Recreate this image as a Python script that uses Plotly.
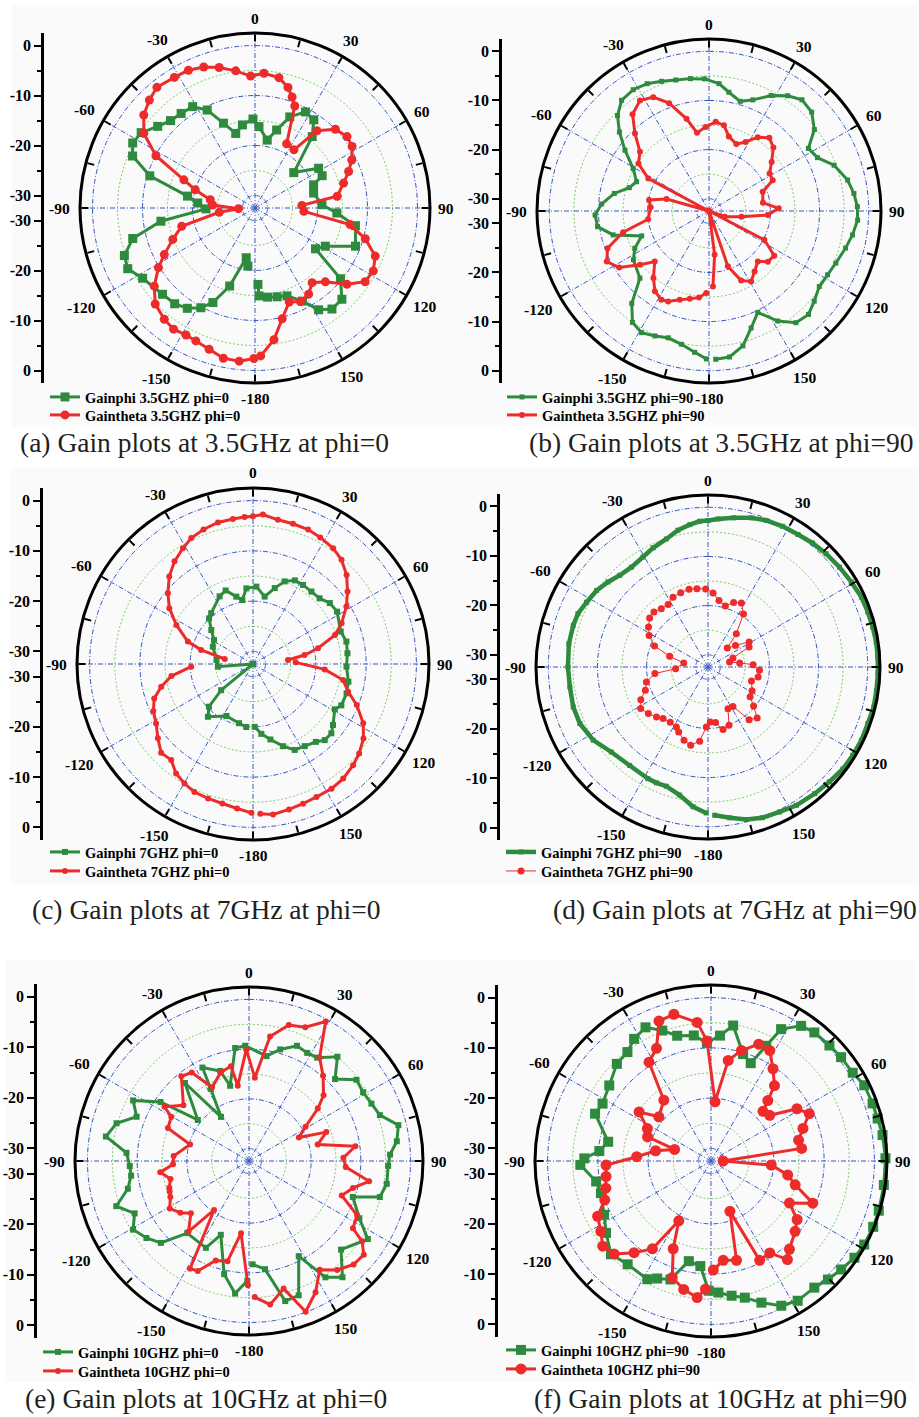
import math
import plotly.graph_objects as go

W, H = 919, 1417
R_MIN, R_MAX = -32.5, 2.5
SERIF = "Liberation Serif"
GREEN = "#2e8b3d"
RED = "#ee2b2b"
GRID_BLUE = "#3558c4"
GRID_GREEN = "#7fcb6b"

# ---------------- gain patterns: angle (deg) / gain (dB) ----------------
# (a) 3.5 GHz, phi = 0
GP_A_ANG = [-173, -170, -162, -156, -151.5, -146, -140, -133, -122, -115.5, -110, -104, -98, -91, -85, -80,
            -73, -67, -62, -56.5, -50, -44, -38, -31.6, -26, -20.4, -14.5, -8.6, -1.3, 2.8, 10.2, 15.5, 20.9,
            27.7, 33.7, 38.7, 47.6, 58, 64.3, 68.4, 75.7, 87.2, 93.5, 100, 110.8, 118.5, 124, 129.6, 136.4,
            142.7, 148, 153, 160, 166, 172, 177.4, 177.8]
GP_A_DB = [-20.8, -22.4, -16.1, -11.8, -9.8, -8.3, -7.5, -7.2, -6.0, -4.3, -4.7, -7.3, -13.5, -22.7, -21.0, -18.8,
           -10.5, -5.9, -4.8, -5.2, -7.1, -8.2, -8.5, -8.7, -10.7, -14.4, -17.1, -15.7, -14.7, -16.2, -18.7, -16.3,
           -13.0, -10.8, -11.3, -14.2, -22.0, -17.5, -17.6, -19.9, -20.4, -19.1, -16.1, -12.1, -11.0, -16.5, -17.9,
           -10.3, -7.3, -7.1, -8.5, -11.6, -13.8, -14.2, -14.5, -14.9, -17.2]
GT_A_ANG = [-179.6, -174.1, -168.1, -162, -156, -151.5, -146.1, -140.8, -133.9, -127.8, -121.7, -117.2, -110.9,
            -104, -96.9, -92.3, -86, -79.5, -73, -68.4, -62.2, -56.1, -50.1, -44.4, -39.1, -31.7, -25.8, -20,
            -14.3, -8, -1.9, 3.8, 10.4, 15.3, 18.5, 21.3, 26.2, 33.8, 38.7, 45.6, 52.2, 57.6, 63.6, 68.7, 74.3,
            81.9, 86.8, 93.9, 99.9, 105.6, 111.8, 118, 123.8, 129.7, 136.4, 142.6, 148.1, 154.1, 160, 166.2,
            171.8, 177.8]
GT_A_DB = [-2.4, -1.7, -1.8, -2.8, -3.4, -3.6, -3.3, -3.8, -4.8, -7.0, -9.8, -12.1, -14.9, -17.4, -25.3, -29.2,
           -24.0, -23.4, -20.0, -17.2, -10.1, -5.7, -3.5, -2.3, -1.4, -1.8, -1.9, -2.5, -3.5, -4.8, -6.1, -5.5,
           -6.0, -7.5, -9.1, -10.6, -18.2, -18.5, -12.7, -10.0, -9.2, -9.5, -10.9, -12.4, -14.1, -15.9, -23.1,
           -22.7, -13.2, -9.6, -6.6, -5.7, -6.0, -8.6, -12.1, -13.7, -12.2, -11.7, -12.5, -9.7, -5.9, -2.9]

# (b) 3.5 GHz, phi = 90
GP_B_ANG = [-179, -174.2, -168.3, -162.2, -156.6, -151, -145.5, -140.1, -134.2, -122.8, -116.7, -110.3, -104,
            -98, -92, -86.3, -79.5, -73.7, -68, -60.7, -54.1, -48.6, -43.8, -38.3, -32, -25.9, -20.1, -14.2, -8,
            -1.9, 4.5, 9.5, 15.9, 21.5, 28.3, 34.3, 39.9, 46.1, 52.3, 57.8, 63.8, 69.9, 77.4, 83.1, 88.3, 93.5,
            99.5, 105.2, 112.3, 118.3, 124.4, 130.6, 136.1, 142.1, 148, 154.3, 160.2, 165.9, 172, 177.4]
GP_B_DB = [-2.4, -3.6, -4.8, -5.4, -4.8, -4.2, -5.0, -8.0, -12.9, -14.2, -15.6, -17.9, -12.4, -9.6, -9.3, -10.6,
           -12.9, -15.6, -16.6, -14.8, -11.4, -8.2, -5.6, -3.8, -3.4, -3.7, -4.4, -5.0, -5.3, -5.6, -6.5, -8.0,
           -9.3, -8.2, -5.8, -4.1, -3.0, -3.5, -5.4, -8.6, -7.9, -5.4, -3.6, -2.8, -2.3, -2.2, -2.9, -3.7, -4.6,
           -5.1, -5.3, -4.3, -3.3, -3.7, -6.1, -9.6, -7.2, -4.2, -2.5, -2.3]
GT_B_ANG = [-178.1, -173.4, -167.7, -161.8, -155.7, -151.8, -146, -140.3, -133, -127.9, -122.2, -116.3, -110.2,
            -103.9, -97.8, -86.4, -79.6, -74.3, -68, -61.8, -56.1, -49.4, -43.7, -38.3, -32, -26.1, -20.3, -13.7,
            -8.7, -2.3, 4.3, 9.9, 14.9, 22.2, 27.9, 33.4, 39.5, 45.4, 51.9, 58.2, 64.2, 70.3, 81.2, 87.8, 93.9,
            100, 109.9, 114, 117.5, 124.4, 130.7, 136, 143, 149.1, 155.2, 161.2, 167, 172.7, 177]
GT_B_DB = [-15.8, -14.8, -14.2, -13.5, -12.3, -12.0, -12.8, -14.8, -17.4, -14.7, -10.9, -9.3, -10.5, -14.5,
           -20.0, -20.6, -20.1, -23.5, -32.5, -18.5, -15.2, -14.0, -10.7, -7.4, -6.0, -6.7, -9.1, -13.2, -16.4,
           -15.4, -14.3, -14.8, -16.8, -17.8, -16.6, -14.5, -13.2, -14.1, -16.3, -18.0, -18.1, -20.9, -21.4,
           -18.3, -20.5, -25.8, -29.1, -32.5, -19.8, -16.4, -16.7, -18.2, -17.1, -15.8, -16.9, -20.6, -32.5,
           -23.5, -17.1]

# (c) 7 GHz, phi = 0
GP_C_ANG = [-173.9, -166.7, -152.9, -139.5, -134.1, -129.4, -115, -94.4, -83.8, -66.6, -58.4, -50.8, -43.9,
            -39.4, -26.3, -20.4, -13.9, -9.5, -5, 2.5, 9.8, 16, 21, 26.6, 32.3, 38.9, 45.4, 51.6, 58.1, 69.7,
            76.5, 83.5, 91.6, 100.5, 107.4, 115.1, 119, 127.3, 131.5, 136.7, 141.1, 147.8, 154.1, 159.9, 167,
            173.2, 178.5]
GP_C_DB = [-19.9, -20.4, -20.9, -18.7, -20.3, -24.3, -32.5, -25.5, -25.2, -23.8, -23.4, -21.8, -19.9, -19.4,
           -17.5, -16.9, -18.7, -19.6, -17.4, -17.1, -18.9, -16.8, -14.9, -13.9, -13.9, -14.0, -13.9, -13.0,
           -12.8, -13.9, -13.4, -13.6, -13.9, -13.2, -13.0, -13.1, -13.9, -12.5, -11.7, -11.7, -12.6, -13.2,
           -13.5, -15.1, -17.1, -18.5, -20.0]
GT_C_ANG = [-179.4, -173.7, -167.6, -161.5, -155.4, -150.2, -144.9, -139.6, -134, -128, -121.5, -115.2, -109.2,
            -103.9, -98.4, -92.5, -90, -80, -74.8, -71, -63, -56.3, -50.3, -43.7, -37.4, -31.2, -26.1, -20.2,
            -13.9, -7.9, -3.3, 0, 3.8, 9.8, 15.9, 22.3, 28, 34.7, 40.3, 46.4, 52.5, 58.4, 65.3, 70.5, 76.4, 80.1,
            83.5, 85.5, 87.8, 94.3, 100.1, 106.2, 111.6, 118.3, 124, 130.1, 135.3, 141.8, 147.8, 154.5, 160.3,
            166.1, 172.4, 177.2]
GT_C_DB = [-2.9, -3.6, -4.1, -4.3, -4.5, -5.1, -5.9, -7.4, -7.1, -8.5, -9.9, -10.6, -11.7, -13.7, -16.1, -20.2,
           None, -26.8, -21.8, -18.8, -15.4, -12.5, -10.5, -8.4, -6.8, -5.6, -4.6, -4.0, -3.5, -3.4, -3.2, -3.1,
           -2.7, -3.4, -3.5, -3.6, -4.0, -4.5, -5.3, -6.8, -8.8, -10.7, -13.1, -15.2, -19.2, -22.1, -25.5, None,
           -24.0, -18.2, -14.3, -12.8, -10.3, -7.6, -6.0, -4.9, -4.2, -3.5, -3.2, -3.2, -3.0, -2.7, -2.3, -2.7]

# (d) 7 GHz, phi = 90
GP_D_ANG = [-179.3, -173.9, -167.5, -160.7, -156, -151.7, -141.5, -131.3, -122.5, -113.8, -106.5, -98.2, -90,
            -80.5, -72.8, -67.7, -61.9, -55.5, -49.6, -43.9, -37.5, -30.6, -24.7, -18, -12.4, -7.3, -3.3, 0, 3.9,
            9.8, 16.2, 21.7, 27.9, 34.2, 40.1, 46.2, 52.8, 59.3, 65.5, 71, 76.4, 81.6, 86.6, 92.2, 97.9, 103.6,
            109.5, 115.6, 121.4, 127, 133.4, 139.9, 147.4, 153.7, 160.2, 165.9, 171.8, 177.4]
GP_D_DB = [-2.8, -3.9, -5.8, -6.8, -6.7, -6.7, -6.9, -6.3, -4.8, -4.0, -3.9, -4.1, -4.0, -3.8, -3.8, -3.9, -4.5,
           -5.0, -5.8, -6.6, -6.9, -6.5, -5.8, -5.1, -4.0, -3.3, -2.8, -2.7, -2.3, -1.7, -0.9, -0.4, -0.1, 0.1,
           0.5, 0.8, 1.1, 1.4, 1.8, 1.9, 2.0, 2.1, 2.1, 2.1, 2.1, 2.2, 2.0, 2.1, 2.0, 1.9, 1.5, 1.2, 0.9, 0.4,
           0.1, -0.5, -1.5, -2.3]
GT_D_ANG = [-178.4, -173.6, -167.5, -161.9, -155.7, -152.2, -145.6, -138.9, -134.1, -128, -121.7, -115.9, -110.4,
            -103.7, -97.1, -93, -80.7, -74.4, -68.5, -61.8, -56, -50, -44.5, -38.7, -32.5, -26.6, -20.2, -13.7,
            -8, -1.7, 3.9, 9.4, 15.9, 21.7, 27.5, 33.8, 40.4, 45.5, 51.9, 58.6, 64, 70.2, 77, 82.8, 87, 93.7,
            101.3, 107.9, 118.4, 125.3, 130.5, 136, 142.1, 147.6, 154.4, 160.2, 166.5, 172.2, 177.6]
GT_D_DB = [-20.3, -17.3, -16.2, -16.8, -18.0, -18.7, -18.9, -18.6, -17.9, -17.1, -16.4, -17.3, -18.9, -19.6,
           -21.6, -25.9, -27.5, -24.4, -20.8, -18.9, -17.9, -17.0, -16.8, -17.3, -17.4, -16.6, -16.4, -16.2,
           -16.4, -16.6, -17.4, -18.8, -19.6, -18.4, -17.8, -19.5, -23.6, -27.0, -25.4, -22.7, -23.2, -27.1,
           -28.0, -26.0, -23.3, -22.0, -22.1, -23.2, -22.3, -22.0, -20.3, -18.1, -18.9, -23.0, -23.1, -19.9,
           -19.4, -21.1, -21.3]

# (e) 10 GHz, phi = 0
GP_E_ANG = [-179.2, -174, -167.6, -159.1, -153.6, -139.4, -132.9, -126.9, -120.6, -114.6, -108.8, -102.9, -97.1,
            -92.4, -86.2, -80.3, -74.1, -68.5, -62.4, -56.3, -51.3, -39.4, -32.4, -27.9, -26.5, -17.7, -14.1, -7,
            -1.9, 9.5, 15.6, 22.6, 28.3, 33.4, 40.3, 46.4, 52.9, 58.9, 64.9, 70.7, 76.5, 82.4, 87.4, 92, 99.4,
            105.4, 109.1, 117.4, 123.3, 133.9, 141.2, 146.7, 152.4, 159.7, 165.5, 171.6, 178]
GP_E_DB = [-8.4, -5.7, -9.2, -16.6, -13.0, -13.4, -8.3, -6.7, -5.4, -7.2, -4.3, -7.5, -8.6, -8.5, -7.8, -3.3,
           -4.8, -8.2, -6.2, -11.1, -19.3, -12.2, -22.0, -16.1, -11.5, -13.5, -16.9, -9.6, -9.3, -11.1, -9.2,
           -7.4, -7.8, -7.6, -5.0, -8.6, -5.4, -5.7, -5.3, -4.6, -1.6, -2.5, -4.1, -4.5, -4.4, -5.2, -10.4,
           -7.5, -3.9, -6.8, -2.5, -4.5, -10.9, -3.7, -3.4, -10.5, -11.7]
GT_E_ANG = [-179.5, -173.7, -167.9, -161.5, -155, -151.3, -144.5, -139.4, -131.9, -127, -121, -114.6, -111,
            -108.5, -102.9, -97.3, -92.5, -86.2, -74.4, -67.9, -60.3, -57.3, -49.7, -38.6, -32.9, -26.6, -17.7,
            -10.8, -8.5, -1.4, 4, 9.6, 16.3, 22.8, 28.8, 34.3, 41, 48.6, 52.7, 58.8, 64.7, 69.5, 76.5, 82.1, 88,
            93.5, 99.6, 104.5, 110.4, 116.6, 122.9, 125.4, 129.2, 134.7, 141, 147, 153.1, 159.4, 164.8, 171.6,
            177.6]
GT_E_DB = [-7.5, -17.9, -11.9, -11.4, -8.1, -7.8, -20.4, -13.8, -16.8, -15.2, -13.9, -15.1, -15.4, -15.6,
           -16.3, -14.5, -17.2, -17.3, -20.2, -14.9, -14.5, -12.3, -15.2, -10.7, -11.3, -15.9, -13.8, -13.1,
           -17.2, -10.1, -15.7, -7.1, -4.0, -3.3, -0.5, -7.3, -9.8, -12.5, -15.1, -19.2, -21.4, -15.9, -18.3,
           -10.9, -13.5, -13.0, -8.0, -10.9, -12.6, -8.2, -7.6, -4.6, -2.7, -2.9, -4.3, -6.4, -2.9, -0.1, -5.9,
           -3.3, -5.1]

# (f) 10 GHz, phi = 90
GP_F_ANG = [-179, -174.2, -167.5, -161.1, -155.4, -151.7, -141.1, -133, -124.4, -116.7, -106.3, -100.1, -91.7,
            -88.8, -84.9, -79.4, -67.8, -62.1, -53.4, -44.1, -37.5, -32.2, -26.1, -20.5, -15.1, -7.8, -2, 4.1,
            9.3, 16.7, 22.1, 25.6, 28, 33.7, 38.8, 45.7, 51.4, 58.1, 63.7, 70.4, 75.7, 81.4, 89.1, 97.9, 106.5,
            112.1, 118.6, 124, 129.8, 135.4, 140.8, 148.2, 154.1, 160.4, 166.1, 171.3, 176.8]
GP_F_DB = [-6.7, -11.5, -12.1, -7.6, -6.8, -5.8, -6.1, -5.3, -7.2, -8.7, -9.7, -9.3, -6.5, -7.3, -10.2, -11.7,
           -7.6, -8.1, -7.3, -5.6, -5.2, -3.8, -2.9, -4.8, -6.7, -7.3, -9.0, -7.5, -5.2, -10.3, -11.5, -7.1, -2.8,
           -0.2, 0.3, 0.4, 0.6, 0.7, 1.5, 1.6, 1.7, 2.0, 2.2, 2.2, 2.3, 2.3, 2.2, 1.9, 1.2, 0.6, 0.0, 0.2, -0.5,
           -2.6, -4.5, -5.4, -6.3]
GT_F_ANG = [-177.5, -174.2, -168, -161.6, -156.7, -151.7, -146.3, -140, -133.8, -128.2, -122.6, -116, -110.1,
            -104.5, -98.4, -92.2, -86.7, -79.5, -72.4, -69.2, -63, -55.7, -49.7, -37.8, -32.1, -25.8, -20.4,
            -14.2, -5.7, -1.9, 3.9, 9.7, 15.4, 22.2, 28, 33.9, 40.1, 43.2, 46.3, 52.1, 58.7, 64.3, 70.5, 76.6,
            82.1, 90, 93.8, 100.3, 105.8, 112.5, 118.2, 124.2, 129.9, 138.4, 142.2, 147.4, 153.9, 159.4, 165.6,
            173, 178.8]
GT_F_DB = [-7.0, -5.2, -6.4, -8.1, -13.5, -19.0, -11.5, -8.7, -5.8, -5.1, -6.5, -7.4, -10.0, -10.9, -11.4,
           -11.6, -17.7, -21.3, -24.9, -19.0, -18.3, -15.2, -18.9, -17.2, -9.3, -7.6, -2.8, -2.4, -4.8, -8.6,
           -20.7, -12.2, -9.7, -7.4, -7.6, -10.4, -12.9, -16.0, -18.2, -17.7, -12.5, -10.8, -13.1, -14.6, -14.3,
           -30.1, -20.5, -17.0, -15.1, -10.6, -14.8, -11.8, -10.7, -9.0, -7.7, -10.8, -10.5, -21.8, -12.1,
           -12.6, -10.8]

# ---------------- axis annotation values ----------------
ANGLE_TICKS = [0, 30, 60, 90, 120, 150, 180, 210, 240, 270, 300, 330]
ANGLE_LABELS = ["0", "30", "60", "90", "120", "150", "-180", "-150", "-120", "-90", "-60", "-30"]
RING_MAJOR = [-30, -20, -10, 0]
RING_MINOR = [-25, -15, -5]
SIDE_TICKS = [0, -10, -20, -30]
SIDE_MINOR = [-5, -15, -25]

# ---------------- panel layout (pixels) ----------------
# leg = (left x, centre y of first entry, centre y of second entry)
PANELS = [
    dict(cx=255, cy=208, R=175, axx=44, axh=175, box=(12, 5, 466, 427),
         leg=(45, 397, 415), cap="(a) Gain plots at 3.5GHz at phi=0", capx=18, capy=442,
         phi=(GP_A_ANG, GP_A_DB, "Gainphi 3.5GHZ phi=0", 9, 3),
         theta=(GT_A_ANG, GT_A_DB, "Gaintheta 3.5GHZ phi=0", 9, 3)),
    dict(cx=709, cy=211, R=172, axx=502, axh=172, box=(464, 5, 917, 427),
         leg=(502, 397, 415), cap="(b) Gain plots at 3.5GHz at phi=90", capx=527, capy=442,
         phi=(GP_B_ANG, GP_B_DB, "Gainphi 3.5GHZ phi=90", 5, 3),
         theta=(GT_B_ANG, GT_B_DB, "Gaintheta 3.5GHZ phi=90", 6, 3)),
    dict(cx=253, cy=664, R=176, axx=43, axh=176, box=(10, 468, 466, 884),
         leg=(45, 852, 871), cap="(c) Gain plots at 7GHz at phi=0", capx=30, capy=909,
         phi=(GP_C_ANG, GP_C_DB, "Gainphi 7GHZ phi=0", 6, 3),
         theta=(GT_C_ANG, GT_C_DB, "Gaintheta 7GHZ phi=0", 6, 3)),
    dict(cx=708, cy=667, R=172, axx=500, axh=173, box=(466, 468, 918, 884),
         leg=(501, 852, 871), cap="(d) Gain plots at 7GHz at phi=90", capx=551, capy=909,
         phi=(GP_D_ANG, GP_D_DB, "Gainphi 7GHZ phi=90", 5, 4.5),
         theta=(GT_D_ANG, GT_D_DB, "Gaintheta 7GHZ phi=90", 7, 1)),
    dict(cx=249, cy=1161, R=174, axx=37, axh=177, box=(5, 960, 463, 1382),
         leg=(38, 1352, 1371), cap="(e) Gain plots at 10GHz at phi=0", capx=23, capy=1398,
         phi=(GP_E_ANG, GP_E_DB, "Gainphi 10GHZ phi=0", 6, 3),
         theta=(GT_E_ANG, GT_E_DB, "Gaintheta 10GHZ phi=0", 6, 3)),
    dict(cx=711, cy=1161, R=176, axx=498, axh=176, box=(463, 960, 915, 1382),
         leg=(501, 1350, 1369), cap="(f) Gain plots at 10GHz at phi=90", capx=532, capy=1398,
         phi=(GP_F_ANG, GP_F_DB, "Gainphi 10GHZ phi=90", 10, 3),
         theta=(GT_F_ANG, GT_F_DB, "Gaintheta 10GHZ phi=90", 11, 3)),
]

LEGEND_TOP_OFFSET = 16  # distance from a legend's top edge to the centre of its entry


def rings(levels):
    r, t = [], []
    for lv in levels:
        for a in range(0, 361, 3):
            r.append(lv)
            t.append(a)
        r.append(None)
        t.append(None)
    return r, t


def spokes():
    r, t = [], []
    for a in range(0, 360, 30):
        r += [R_MIN, R_MAX, None]
        t += [a, a, None]
    return r, t


fig = go.Figure()
layout = dict(width=W, height=H, margin=dict(l=0, r=0, t=0, b=0),
              paper_bgcolor="white", plot_bgcolor="rgba(0,0,0,0)",
              showlegend=True, annotations=[], shapes=[])

legend_no = 0
for i, p in enumerate(PANELS, start=1):
    sfx = "" if i == 1 else str(i)
    polar = "polar" + sfx
    xa, ya = "x" + sfx, "y" + sfx

    for ang, val in (p["phi"][:2], p["theta"][:2]):
        assert len(ang) == len(val), (i, len(ang), len(val))

    # panel backdrop
    x0, y0, x1, y1 = p["box"]
    layout["shapes"].append(dict(type="rect", xref="paper", yref="paper", layer="below",
                                 x0=x0 / W, x1=x1 / W, y0=1 - y1 / H, y1=1 - y0 / H,
                                 fillcolor="#fafafa", line=dict(width=0)))

    # grid: dotted minor rings, dash-dot major rings, radial spokes
    rr, tt = rings(RING_MINOR)
    fig.add_trace(go.Scatterpolar(r=rr, theta=tt, mode="lines", subplot=polar, showlegend=False,
                                  hoverinfo="skip", line=dict(color=GRID_GREEN, width=1, dash="2px,2px")))
    rr, tt = rings(RING_MAJOR)
    fig.add_trace(go.Scatterpolar(r=rr, theta=tt, mode="lines", subplot=polar, showlegend=False,
                                  hoverinfo="skip", line=dict(color=GRID_BLUE, width=1, dash="5px,2px,1px,2px")))
    rr, tt = spokes()
    fig.add_trace(go.Scatterpolar(r=rr, theta=tt, mode="lines", subplot=polar, showlegend=False,
                                  hoverinfo="skip", line=dict(color=GRID_BLUE, width=1, dash="5px,2px,1px,2px")))

    # gain curves, each with its own legend entry box
    lx = p["leg"][0]
    for k, ((ang, val, name, msize, lw), color, sym) in enumerate(
            ((p["phi"], GREEN, "square"), (p["theta"], RED, "circle"))):
        legend_no += 1
        lname = "legend" if legend_no == 1 else "legend%d" % legend_no
        fig.add_trace(go.Scatterpolar(r=val, theta=ang, name=name, mode="lines+markers", subplot=polar,
                                      legend=lname, connectgaps=False,
                                      line=dict(color=color, width=lw),
                                      marker=dict(symbol=sym, size=msize, color=color)))
        ly = p["leg"][1 + k] - LEGEND_TOP_OFFSET
        layout[lname] = dict(x=lx / W, y=1 - ly / H, xanchor="left", yanchor="top", xref="paper",
                             yref="paper", bgcolor="rgba(0,0,0,0)", borderwidth=0, itemwidth=30,
                             font=dict(family=SERIF, size=14.5, color="black", weight="bold"))

    layout[polar] = dict(
        domain=dict(x=[(p["cx"] - p["R"]) / W, (p["cx"] + p["R"]) / W],
                    y=[1 - (p["cy"] + p["R"]) / H, 1 - (p["cy"] - p["R"]) / H]),
        bgcolor="rgba(0,0,0,0)",
        radialaxis=dict(range=[R_MIN, R_MAX], visible=False),
        angularaxis=dict(direction="clockwise", rotation=90, showgrid=False, showline=True,
                         linecolor="black", linewidth=3, ticks="inside", ticklen=7, tickwidth=2,
                         tickcolor="black", tickvals=list(range(0, 360, 15)), showticklabels=False),
    )

    # angle labels just outside the rim
    for a, txt in zip(ANGLE_TICKS, ANGLE_LABELS):
        s, c = math.sin(math.radians(a)), math.cos(math.radians(a))
        d = p["R"] + 9 + 3.7 * len(txt) * abs(s) + 6 * abs(c)
        layout["annotations"].append(dict(text=txt, xref="paper", yref="paper",
                                          x=(p["cx"] + d * s) / W, y=1 - (p["cy"] - d * c) / H,
                                          xanchor="center", yanchor="middle", showarrow=False,
                                          font=dict(family=SERIF, size=15.5, color="black", weight="bold")))

    # vertical gain scale at the left of each pattern
    fig.add_trace(go.Scatter(x=[0.5], y=[0], xaxis=xa, yaxis=ya, mode="markers", showlegend=False,
                             hoverinfo="skip", marker=dict(opacity=0)))
    tick_pos = [d - R_MIN for d in SIDE_TICKS] + [-(d - R_MIN) for d in SIDE_TICKS]
    tick_txt = [str(d) for d in SIDE_TICKS] + [str(d) for d in SIDE_TICKS]
    minor_pos = [d - R_MIN for d in SIDE_MINOR] + [-(d - R_MIN) for d in SIDE_MINOR]
    half = R_MAX - R_MIN
    layout["xaxis" + sfx] = dict(domain=[p["axx"] / W, p["axx"] / W + 0.02], range=[0, 1], visible=False,
                                 anchor=ya, fixedrange=True)
    layout["yaxis" + sfx] = dict(domain=[1 - (p["cy"] + p["axh"]) / H, 1 - (p["cy"] - p["axh"]) / H],
                                 range=[-half, half], anchor=xa, showline=True, linecolor="black",
                                 linewidth=2.5, ticks="outside", ticklen=7, tickwidth=2, tickcolor="black",
                                 tickvals=tick_pos, ticktext=tick_txt, showgrid=False, zeroline=False,
                                 tickfont=dict(family=SERIF, size=16, color="black", weight="bold"),
                                 minor=dict(tickvals=minor_pos, ticks="outside", ticklen=4, tickwidth=1.5,
                                            tickcolor="black", showgrid=False),
                                 fixedrange=True)

    layout["annotations"].append(dict(text=p["cap"], xref="paper", yref="paper", x=p["capx"] / W,
                                      y=1 - p["capy"] / H, xanchor="left", yanchor="middle",
                                      showarrow=False, font=dict(family=SERIF, size=27.5, color="#231f20")))

fig.update_layout(**layout)
fig.write_html("out.html")
